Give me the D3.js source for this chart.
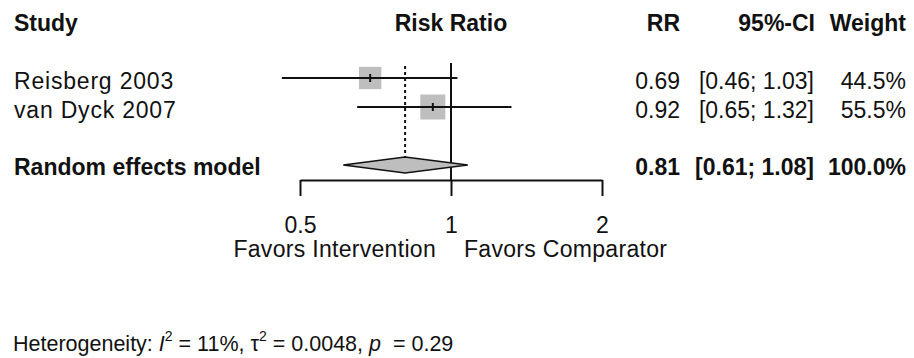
<!DOCTYPE html>
<html>
<head>
<meta charset="utf-8">
<script src="https://cdn.jsdelivr.net/npm/d3@7"></script>
<style>
  body { margin: 0; background: #fff; }
  svg { display: block; font-family: 'Liberation Sans', Arial, sans-serif; }
  text { white-space: pre; }
</style>
</head>
<body>
<div id="chart"></div>
<script>
const WIDTH = 914
const HEIGHT = 358
const FONT_SIZE = 23
const INK = '#111'
const SQUARE_FILL = '#bebebe'

// Study data
const studies = ['Reisberg 2003', 'van Dyck 2007']
const riskRatios = [0.69, 0.92]
const ciLower = [0.46, 0.65]
const ciUpper = [1.03, 1.32]
const weights = [44.5, 55.5]

// Random effects model
const pooledLabel = 'Random effects model'
const pooledRR = 0.81
const pooledLower = 0.61
const pooledUpper = 1.08
const pooledWeight = 100.0

// Axis
const tickValues = [0.5, 1, 2]
const labelLeft = 'Favors Intervention'
const labelRight = 'Favors Comparator'

const fmt2 = d3.format('.2f')
const fmtW = d => d3.format('.1f')(d) + '%'
const fmtCI = (lo, hi) => '[' + fmt2(lo) + '; ' + fmt2(hi) + ']'

const svg = d3.select('#chart')
  .append('svg')
  .attr('width', WIDTH)
  .attr('height', HEIGHT)

const x = d3.scaleLog()
  .base(2)
  .domain([0.5, 2])
  .range([300, 602])

// rows: 0 header, 2-3 studies, 5 pooled
const y = d3.scaleLinear()
  .domain([0, 5])
  .range([20, 165])

const side = d3.scaleSqrt()
  .domain([0, d3.max(weights)])
  .range([0, 25])

const studyRows = studies.map((s, i) => ({
  study: s,
  rr: riskRatios[i],
  lo: ciLower[i],
  hi: ciUpper[i],
  w: weights[i],
  row: i + 2,
}))

const textBase = (sel, size, weight) => sel
  .attr('font-size', size || FONT_SIZE)
  .attr('font-weight', weight || 'normal')
  .attr('fill', INK)

// Column headers
const header = [
  { t: 'Study', x: 14, anchor: 'start' },
  { t: 'Risk Ratio', x: x(1), anchor: 'middle' },
  { t: 'RR', x: 680, anchor: 'end' },
  { t: '95%-CI', x: 815, anchor: 'end' },
  { t: 'Weight', x: 906, anchor: 'end' },
]
svg.append('g')
  .selectAll('text')
  .data(header)
  .enter()
  .append('text')
  .attr('x', d => d.x)
  .attr('y', y(0) + 11)
  .attr('text-anchor', d => d.anchor)
  .text(d => d.t)
  .call(textBase, FONT_SIZE, 'bold')

// Reference line at 1 and dotted pooled line
svg.append('line')
  .attr('x1', x(1)).attr('x2', x(1))
  .attr('y1', 63).attr('y2', 180)
  .attr('stroke', INK)
  .attr('stroke-width', 2)

svg.append('line')
  .attr('x1', x(pooledRR)).attr('x2', x(pooledRR))
  .attr('y1', 66).attr('y2', y(5) - 8)
  .attr('stroke', INK)
  .attr('stroke-width', 2)
  .attr('stroke-dasharray', '3,3')

// Study rows
const rowSel = svg.append('g')
  .selectAll('g')
  .data(studyRows)
  .enter()
  .append('g')
  .attr('class', 'study')

rowSel.append('rect')
  .attr('x', d => x(d.rr) - side(d.w) / 2)
  .attr('y', d => y(d.row) - side(d.w) / 2)
  .attr('width', d => side(d.w))
  .attr('height', d => side(d.w))
  .attr('fill', SQUARE_FILL)

rowSel.append('line')
  .attr('x1', d => x(d.lo))
  .attr('x2', d => x(d.hi))
  .attr('y1', d => y(d.row))
  .attr('y2', d => y(d.row))
  .attr('stroke', INK)
  .attr('stroke-width', 2)

rowSel.append('line')
  .attr('x1', d => x(d.rr))
  .attr('x2', d => x(d.rr))
  .attr('y1', d => y(d.row) - 4)
  .attr('y2', d => y(d.row) + 4)
  .attr('stroke', INK)
  .attr('stroke-width', 2)

rowSel.append('text')
  .attr('x', 14)
  .attr('y', d => y(d.row) + 11)
  .attr('letter-spacing', 0.8)
  .text(d => d.study)
  .call(textBase)

rowSel.append('text')
  .attr('x', 680)
  .attr('y', d => y(d.row) + 11)
  .attr('text-anchor', 'end')
  .text(d => fmt2(d.rr))
  .call(textBase)

rowSel.append('text')
  .attr('x', 814)
  .attr('y', d => y(d.row) + 11)
  .attr('text-anchor', 'end')
  .text(d => fmtCI(d.lo, d.hi))
  .call(textBase)

rowSel.append('text')
  .attr('x', 906)
  .attr('y', d => y(d.row) + 11)
  .attr('text-anchor', 'end')
  .text(d => fmtW(d.w))
  .call(textBase)

// Pooled diamond
const yp = y(5)
svg.append('path')
  .attr('d', d3.line()([
    [x(pooledLower), yp],
    [x(pooledRR), yp - 8],
    [x(pooledUpper), yp],
    [x(pooledRR), yp + 8],
  ]) + 'Z')
  .attr('fill', SQUARE_FILL)
  .attr('stroke', INK)
  .attr('stroke-width', 1.5)

const pooledText = [
  { t: pooledLabel, x: 14, anchor: 'start' },
  { t: fmt2(pooledRR), x: 680, anchor: 'end' },
  { t: fmtCI(pooledLower, pooledUpper), x: 814, anchor: 'end' },
  { t: fmtW(pooledWeight), x: 906, anchor: 'end' },
]
svg.append('g')
  .selectAll('text')
  .data(pooledText)
  .enter()
  .append('text')
  .attr('x', d => d.x)
  .attr('y', yp + 10)
  .attr('text-anchor', d => d.anchor)
  .text(d => d.t)
  .call(textBase, FONT_SIZE, 'bold')

// Bottom axis
const axisSel = svg.append('g')
  .attr('transform', 'translate(0,180)')
  .call(d3.axisBottom(x)
    .tickValues(tickValues)
    .tickFormat(d3.format(''))
    .tickSizeOuter(0)
    .tickSizeInner(16)
    .tickPadding(21))

axisSel.selectAll('path, line')
  .attr('stroke', INK)
  .attr('stroke-width', 2)
axisSel.selectAll('text')
  .attr('font-family', null)
  .call(textBase)

// Favors labels
svg.append('text')
  .attr('x', x(1) - 15)
  .attr('y', 257)
  .attr('text-anchor', 'end')
  .attr('letter-spacing', 0.3)
  .text(labelLeft)
  .call(textBase)

svg.append('text')
  .attr('x', x(1) + 13)
  .attr('y', 257)
  .attr('text-anchor', 'start')
  .attr('letter-spacing', 0.3)
  .text(labelRight)
  .call(textBase)

// Heterogeneity line
const het = svg.append('text')
  .attr('x', 13)
  .attr('y', 351)
  .call(textBase, 21.5)

het.append('tspan').text('Heterogeneity: ')
het.append('tspan').attr('font-style', 'italic').text('I')
het.append('tspan').attr('font-size', 14).attr('dy', -10).text('2')
het.append('tspan').attr('dy', 10).text(' = 11%, τ')
het.append('tspan').attr('font-size', 14).attr('dy', -10).text('2')
het.append('tspan').attr('dy', 10).text(' = 0.0048, ')
het.append('tspan').attr('font-style', 'italic').text('p')
het.append('tspan').text('  = 0.29')
</script>
</body>
</html>
